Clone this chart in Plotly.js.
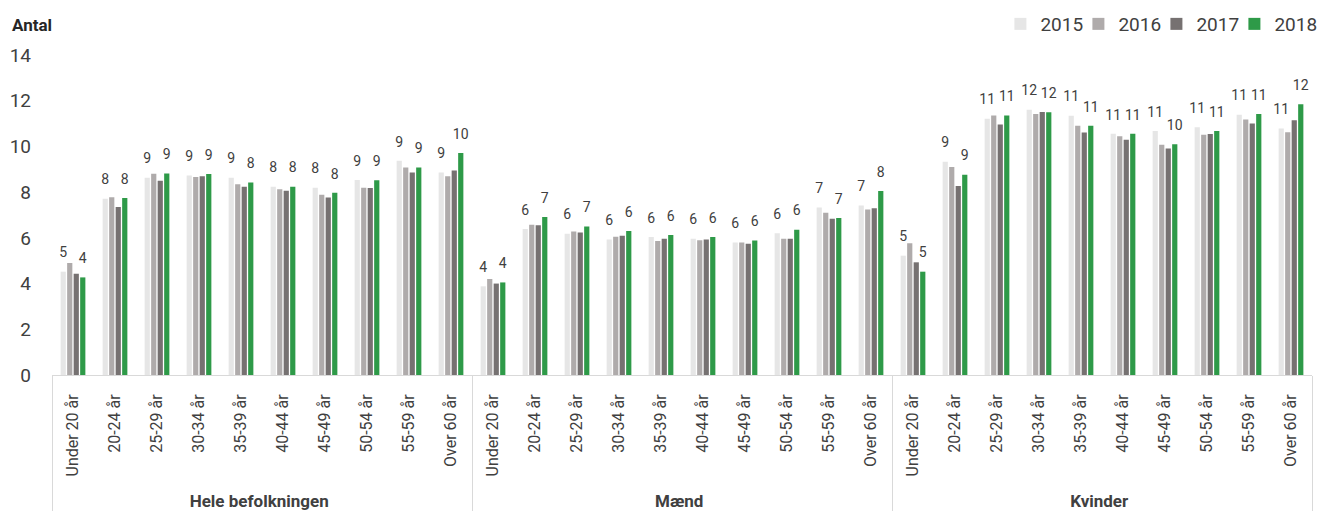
<!DOCTYPE html>
<html>
<head>
<meta charset="utf-8">
<script src="https://cdn.plot.ly/plotly-3.0.1.min.js"></script>
<style>
  html, body { margin: 0; padding: 0; background: #fff; }
  #chart { width: 1319px; height: 511px; }
</style>
</head>
<body>
<div id="chart"></div>
<script>
const groups = ["Hele befolkningen", "Mænd", "Kvinder"];
const ageGroups = ["Under 20 år", "20-24 år", "25-29 år", "30-34 år", "35-39 år",
                   "40-44 år", "45-49 år", "50-54 år", "55-59 år", "Over 60 år"];
const years = ["2015", "2016", "2017", "2018"];

// values per year: Hele befolkningen (10), Mænd (10), Kvinder (10)
const v2015 = [4.52, 7.71, 8.63, 8.73, 8.63, 8.24, 8.19, 8.53, 9.37, 8.86,
               3.88, 6.39, 6.18, 5.93, 6.04, 5.96, 5.80, 6.20, 7.33, 7.42,
               5.22, 9.33, 11.21, 11.61, 11.34, 10.55, 10.68, 10.84, 11.39, 10.78];
const v2016 = [4.90, 7.78, 8.80, 8.66, 8.34, 8.13, 7.89, 8.19, 9.08, 8.70,
               4.20, 6.57, 6.28, 6.05, 5.86, 5.89, 5.80, 5.96, 7.10, 7.24,
               5.76, 9.10, 11.35, 11.42, 10.90, 10.45, 10.07, 10.51, 11.18, 10.62];
const v2017 = [4.43, 7.35, 8.50, 8.70, 8.24, 8.06, 7.77, 8.18, 8.86, 8.95,
               4.00, 6.55, 6.23, 6.09, 5.96, 5.93, 5.74, 5.96, 6.84, 7.30,
               4.93, 8.27, 10.96, 11.51, 10.61, 10.29, 9.91, 10.54, 11.00, 11.15];
const v2018 = [4.27, 7.74, 8.82, 8.79, 8.42, 8.24, 7.97, 8.52, 9.08, 9.71,
               4.05, 6.91, 6.50, 6.30, 6.12, 6.04, 5.88, 6.36, 6.87, 8.05,
               4.52, 8.76, 11.35, 11.50, 10.90, 10.55, 10.10, 10.68, 11.42, 11.85];

const colors = ["#e6e6e6", "#afabab", "#767171", "#2e9a48"];
const showLabels = [true, false, false, true];

const outer = [], inner = [];
groups.forEach(g => ageGroups.forEach(a => {
  outer.push("<b><span style='font-size:17px'>" + g + "</span></b>");
  inner.push(a + "\u00a0\u00a0\u00a0");
}));

const series = [v2015, v2016, v2017, v2018];
const traces = series.map((vals, i) => ({
  type: "bar",
  name: years[i],
  x: [outer, inner],
  y: vals,
  marker: { color: colors[i], line: { width: 0 } },
  text: showLabels[i] ? vals.map(v => String(Math.round(v))) : undefined,
  texttemplate: showLabels[i] ? "%{text}<br><sup><span style='color:rgba(0,0,0,0)'>.</span></sup>" : undefined,
  textposition: showLabels[i] ? "outside" : "none",
  constraintext: "none",
  cliponaxis: false,
  textfont: { family: "Roboto", size: 14, color: "#404040" },
  hoverinfo: "x+y+name"
}));

const layout = {
  width: 1319,
  height: 511,
  margin: { l: 52, r: 7, t: 55, b: 135.5 },
  paper_bgcolor: "#ffffff",
  plot_bgcolor: "#ffffff",
  font: { family: "Roboto", color: "#404040" },
  barmode: "group",
  bargap: 0.38,
  bargroupgap: 0.2,
  showlegend: true,
  legend: {
    orientation: "h",
    xref: "container", yref: "container",
    x: 0.995, xanchor: "right",
    y: 0.953, yanchor: "middle",
    font: { family: "Roboto", size: 19, color: "#404040" },
    traceorder: "normal",
    itemwidth: 30,
    entrywidth: 33,
    entrywidthmode: "pixels",
    itemclick: false
  },
  xaxis: {
    type: "multicategory",
    tickangle: -90,
    tickfont: { family: "Roboto", size: 16, color: "#404040" },
    showline: true,
    linecolor: "#d9d9d9",
    linewidth: 1,
    ticks: "",
    showgrid: false,
    showdividers: true,
    dividercolor: "#d9d9d9",
    dividerwidth: 1,
    automargin: false
  },
  yaxis: {
    range: [0, 14],
    dtick: 2,
    showgrid: false,
    zeroline: false,
    showline: false,
    ticks: "",
    ticklabelstandoff: 20,
    tickfont: { family: "Roboto", size: 19, color: "#404040" },
    automargin: false
  },
  annotations: [{
    text: "<b>Antal</b>",
    xref: "paper", yref: "paper",
    x: -0.0333, xanchor: "left",
    y: 1.0936, yanchor: "middle",
    showarrow: false,
    font: { family: "Roboto", size: 17, color: "#262626" }
  }]
};

Plotly.newPlot("chart", traces, layout, { displayModeBar: false, staticPlot: true }).then(gd => {
  // let the last legend label extend past the compact legend box
  gd.querySelectorAll(".legend [clip-path]").forEach(el => el.removeAttribute("clip-path"));
});
</script>
</body>
</html>
